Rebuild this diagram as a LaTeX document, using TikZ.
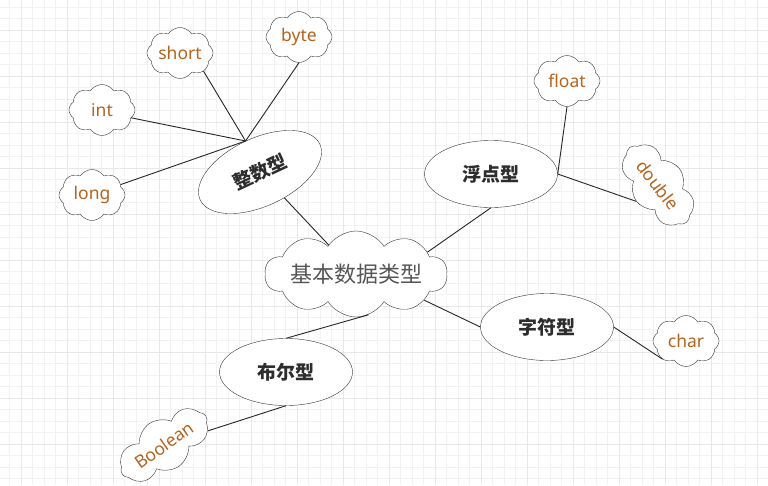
\documentclass[tikz,border=0pt]{standalone}
\usepackage{fontspec}
\setmainfont{Noto Sans}
\newfontfamily\cjk{Noto Sans CJK SC}
\usetikzlibrary{shapes.symbols,shapes.geometric}
\definecolor{L4}{RGB}{180,100,30}
\definecolor{G4}{RGB}{85,85,85}
\definecolor{G2}{RGB}{45,45,45}
\definecolor{GF}{RGB}{242,242,242}
\definecolor{GB}{RGB}{232,232,232}

\begin{document}
\begin{tikzpicture}[x=1pt,y=-1pt,
    leaf/.style={cloud, cloud puffs=8, cloud puff arc=115, cloud ignores aspect, draw=black!80, fill=white,
                 minimum width=66pt, minimum height=51pt, inner sep=0pt, text=L4, font=\fontsize{17.5}{17.5}\selectfont},
    kind/.style={ellipse, draw=black!80, fill=white, minimum width=133pt, minimum height=67pt, inner sep=0pt,
                 text=G2, font=\cjk\bfseries\fontsize{19}{19}\selectfont},
    link/.style={draw=black!85, line width=0.9pt}]
      \useasboundingbox (0,0) rectangle (768,485);
      % grid
      \fill[white] (0,0) rectangle (768,485);
      \foreach \gx in {0,...,65} \draw[GF, line width=1pt] ({9.8+11.5*\gx},0) -- ++(0,485);
      \foreach \gy in {0,...,41} \draw[GF, line width=1pt] (0,{7+11.5*\gy}) -- ++(768,0);
      \foreach \gx in {0,...,16} \draw[GB, line width=1pt] ({21.3+46*\gx},0) -- ++(0,485);
      \foreach \gy in {0,...,10} \draw[GB, line width=1pt] (0,{30+46*\gy}) -- ++(768,0);
      % centre
      \node[cloud, cloud puffs=10, cloud puff arc=115, cloud ignores aspect, draw=black!80, fill=white,
            minimum width=161pt, minimum height=86pt, inner sep=0pt, text=G4,
            font=\cjk\fontsize{22}{22}\selectfont] (jb) at (356,274) {基本数据类型};
      % kinds
      \node[kind, rotate=25, minimum width=132pt, minimum height=68pt] (zs) at (260,172) {整数型};
      \node[kind] (fd) at (491,174) {浮点型};
      \node[kind] (zf) at (547,327) {字符型};
      \node[kind] (be) at (286,372) {布尔型};
      % leaves
      \node[leaf] (sh) at (180,53) {short};
      \node[leaf] (by) at (299,37) {byte};
      \node[leaf] (in) at (102,110) {int};
      \node[leaf] (lo) at (92,195) {long};
      \node[leaf] (fl) at (567,81) {float};
      \node[leaf, rotate=-53, minimum width=94pt, minimum height=54pt] (db) at (658,185) {double};
      \node[leaf] (ch) at (686,341) {char};
      \node[leaf, rotate=35, minimum width=102pt, minimum height=52pt] (bl) at (164,445) {Boolean};
      % links
      \draw[link] (zs) -- (jb);
      \draw[link] (fd.south) -- (jb.17);
      \draw[link] (jb.-21) -- (zf.west);
      \draw[link] (jb.-73) -- (be.north);
      \draw[link] (zs.north) -- (in.-15);
      \draw[link] (zs.north) -- (sh.south east);
      \draw[link] (zs.north) -- (by.south);
      \draw[link] (zs.north) -- (lo.20);
      \draw[link] (fd.east) -- (fl.south);
      \draw[link] (fd.east) -- (db.south);
      \draw[link] (zf.east) -- (ch.south west);
      \draw[link] (be.south) -- (bl);
    \end{tikzpicture}
\end{document}
